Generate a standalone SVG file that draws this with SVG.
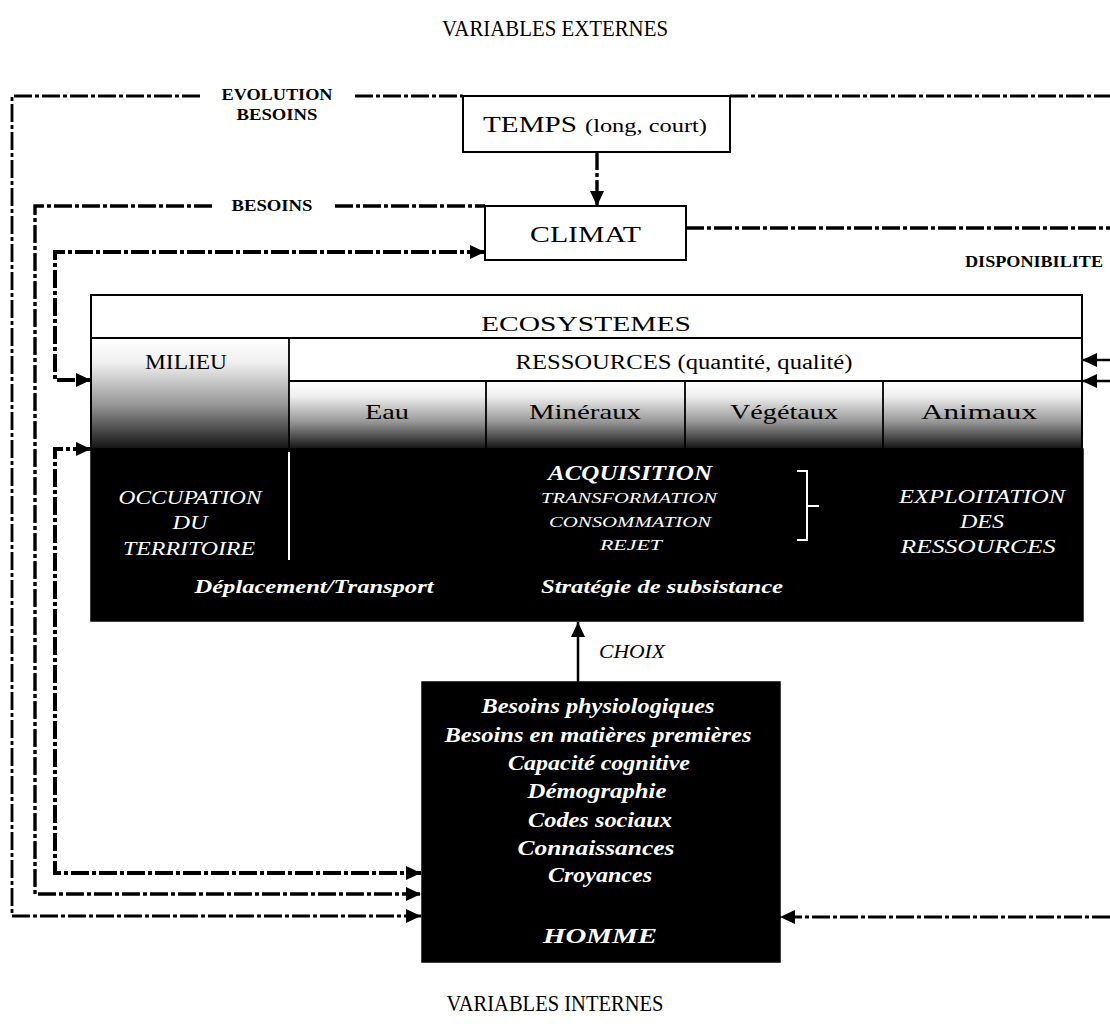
<svg xmlns="http://www.w3.org/2000/svg" width="1110" height="1029" viewBox="0 0 1110 1029">
<style>
  text { font-family: "Liberation Serif", "Times New Roman", serif; fill: #000; }
  .t { text-anchor: middle; }
  .lbl { font-size: 16px; font-weight: bold; }
  .box { fill: #fff; stroke: #000; stroke-width: 2; }
  .ln { fill: none; stroke: #000; stroke-width: 1.8; }
  .dl { fill: none; stroke: #000; stroke-dasharray: 18 3 4 3; }
  .w2 { stroke-width: 2.8; }
  .w3 { stroke-width: 3.4; }
  .w4 { stroke-width: 4; }
  .sol { fill: none; stroke: #000; stroke-width: 2.5; }
  .wi { fill: #fff; }
  .it { font-style: italic; }
  .bi { font-style: italic; font-weight: bold; }
  .wl { fill: none; stroke: #fff; stroke-width: 2; }
</style>
<defs>
  <marker id="ah" markerUnits="userSpaceOnUse" markerWidth="15" markerHeight="14" refX="15" refY="7" orient="auto-start-reverse">
    <path d="M0,0 L15,7 L0,14 z" fill="#000"/>
  </marker>
  <linearGradient id="g" x1="0" y1="0" x2="0" y2="1">
    <stop offset="0" stop-color="#ffffff"/>
    <stop offset="0.22" stop-color="#f0f0f0"/>
    <stop offset="0.6" stop-color="#979797"/>
    <stop offset="1" stop-color="#121212"/>
  </linearGradient>
</defs>
<rect width="1110" height="1029" fill="#fff"/>

<text class="t" x="555" y="36" font-size="23" textLength="226" lengthAdjust="spacingAndGlyphs">VARIABLES EXTERNES</text>
<text class="t" x="555" y="1011" font-size="23" textLength="217" lengthAdjust="spacingAndGlyphs">VARIABLES INTERNES</text>

<g id="connectors">
  <path class="dl w2" d="M200,96 H12 V916 H421" marker-end="url(#ah)"/>
  <path class="dl w2" d="M355,96 H463"/>
  <path class="dl w2" d="M730,96 H1110"/>
  <path class="dl w3" d="M212,206 H35 V894 H421" marker-end="url(#ah)"/>
  <path class="dl w3" d="M335,206 H485"/>
  <path class="dl w4" d="M485,252 H55 V380 H91" marker-start="url(#ah)" marker-end="url(#ah)"/>
  <path class="dl w4" d="M91,449 H55 V873 H421" marker-start="url(#ah)" marker-end="url(#ah)"/>
  <path class="dl w3" d="M597,152 V206" marker-end="url(#ah)"/>
  <path class="dl w3" d="M686,228 H1110"/>
  <path class="sol" d="M1110,360 H1082" marker-end="url(#ah)"/>
  <path class="sol" d="M1110,381 H1082" marker-end="url(#ah)"/>
  <path class="sol" d="M578,682 V622" marker-end="url(#ah)"/>
  <path class="dl w2" d="M1110,917 H780" marker-end="url(#ah)"/>
  <text class="t lbl" x="277" y="100" textLength="111" lengthAdjust="spacingAndGlyphs">EVOLUTION</text>
  <text class="t lbl" x="277" y="120" textLength="81" lengthAdjust="spacingAndGlyphs">BESOINS</text>
  <text class="t lbl" x="272" y="211" textLength="81" lengthAdjust="spacingAndGlyphs">BESOINS</text>
  <text class="t lbl" x="1034" y="267" textLength="138" lengthAdjust="spacingAndGlyphs">DISPONIBILITE</text>
  <text class="t it" x="632" y="658" font-size="18" textLength="66" lengthAdjust="spacingAndGlyphs">CHOIX</text>
</g>

<g id="temps">
  <rect class="box" x="463" y="96" width="267" height="56"/>
  <text x="483" y="132" font-size="24" textLength="94" lengthAdjust="spacingAndGlyphs">TEMPS</text>
  <text x="585" y="132" font-size="19" textLength="122" lengthAdjust="spacingAndGlyphs">(long, court)</text>
</g>

<g id="climat">
  <rect class="box" x="485" y="206" width="201" height="54"/>
  <text class="t" x="585.5" y="242" font-size="24" textLength="111" lengthAdjust="spacingAndGlyphs">CLIMAT</text>
</g>

<g id="ecosystemes">
  <rect class="box" x="91" y="295" width="991" height="154"/>
  <rect x="91" y="338" width="198" height="111" fill="url(#g)"/>
  <rect x="289" y="381" width="793" height="68" fill="url(#g)"/>
  <path class="ln" d="M91,338 H1082 M289,338 V449 M289,381 H1082 M486,381 V449 M685,381 V449 M883,381 V449"/>
  <rect x="91" y="295" width="991" height="154" fill="none" stroke="#000" stroke-width="2"/>
  <text class="t" x="586" y="331" font-size="22" textLength="210" lengthAdjust="spacingAndGlyphs">ECOSYSTEMES</text>
  <text class="t" x="186" y="369" font-size="20" textLength="82" lengthAdjust="spacingAndGlyphs">MILIEU</text>
  <text class="t" x="684" y="369" font-size="20" textLength="337" lengthAdjust="spacingAndGlyphs">RESSOURCES (quantité, qualité)</text>
  <text class="t" x="387" y="419" font-size="21" textLength="44" lengthAdjust="spacingAndGlyphs">Eau</text>
  <text class="t" x="585" y="419" font-size="21" textLength="112" lengthAdjust="spacingAndGlyphs">Minéraux</text>
  <text class="t" x="784" y="419" font-size="21" textLength="108" lengthAdjust="spacingAndGlyphs">Végétaux</text>
  <text class="t" x="979" y="419" font-size="21" textLength="116" lengthAdjust="spacingAndGlyphs">Animaux</text>
</g>

<g id="activites">
  <rect x="91" y="449" width="992" height="172" fill="#000" stroke="#000" stroke-width="1.5"/>
  <path class="wl" d="M289,452 V560"/>
  <path class="wl" d="M797,471 H807 V540 H797 M807,506 H819" stroke-width="1.6"/>
  <text class="t it wi" x="190" y="504" font-size="18" textLength="143" lengthAdjust="spacingAndGlyphs">OCCUPATION</text>
  <text class="t it wi" x="190" y="529" font-size="18" textLength="35" lengthAdjust="spacingAndGlyphs">DU</text>
  <text class="t it wi" x="189" y="555" font-size="18" textLength="132" lengthAdjust="spacingAndGlyphs">TERRITOIRE</text>
  <text class="t bi wi" x="314" y="593" font-size="18" textLength="239" lengthAdjust="spacingAndGlyphs">Déplacement/Transport</text>
  <text class="t bi wi" x="630" y="480" font-size="20" textLength="164" lengthAdjust="spacingAndGlyphs">ACQUISITION</text>
  <text class="t it wi" x="629" y="503" font-size="14" textLength="176" lengthAdjust="spacingAndGlyphs">TRANSFORMATION</text>
  <text class="t it wi" x="630" y="527" font-size="14" textLength="162" lengthAdjust="spacingAndGlyphs">CONSOMMATION</text>
  <text class="t it wi" x="631" y="550" font-size="14" textLength="62" lengthAdjust="spacingAndGlyphs">REJET</text>
  <text class="t bi wi" x="662" y="593" font-size="18" textLength="242" lengthAdjust="spacingAndGlyphs">Stratégie de subsistance</text>
  <text class="t it wi" x="982" y="503" font-size="19" textLength="166" lengthAdjust="spacingAndGlyphs">EXPLOITATION</text>
  <text class="t it wi" x="982" y="528" font-size="19" textLength="44" lengthAdjust="spacingAndGlyphs">DES</text>
  <text class="t it wi" x="978" y="553" font-size="19" textLength="155" lengthAdjust="spacingAndGlyphs">RESSOURCES</text>
</g>

<g id="homme">
  <rect x="422" y="682" width="358" height="280" fill="#000" stroke="#000" stroke-width="1.5"/>
  <text class="t bi wi" x="598" y="713" font-size="20" textLength="233" lengthAdjust="spacingAndGlyphs">Besoins physiologiques</text>
  <text class="t bi wi" x="598" y="742" font-size="20" textLength="307" lengthAdjust="spacingAndGlyphs">Besoins en matières premières</text>
  <text class="t bi wi" x="599" y="770" font-size="20" textLength="182" lengthAdjust="spacingAndGlyphs">Capacité cognitive</text>
  <text class="t bi wi" x="597" y="798" font-size="20" textLength="139" lengthAdjust="spacingAndGlyphs">Démographie</text>
  <text class="t bi wi" x="600" y="827" font-size="20" textLength="144" lengthAdjust="spacingAndGlyphs">Codes sociaux</text>
  <text class="t bi wi" x="596" y="855" font-size="20" textLength="157" lengthAdjust="spacingAndGlyphs">Connaissances</text>
  <text class="t bi wi" x="600" y="882" font-size="20" textLength="104" lengthAdjust="spacingAndGlyphs">Croyances</text>
  <text class="t bi wi" x="600" y="943" font-size="22" textLength="114" lengthAdjust="spacingAndGlyphs">HOMME</text>
</g>
</svg>
